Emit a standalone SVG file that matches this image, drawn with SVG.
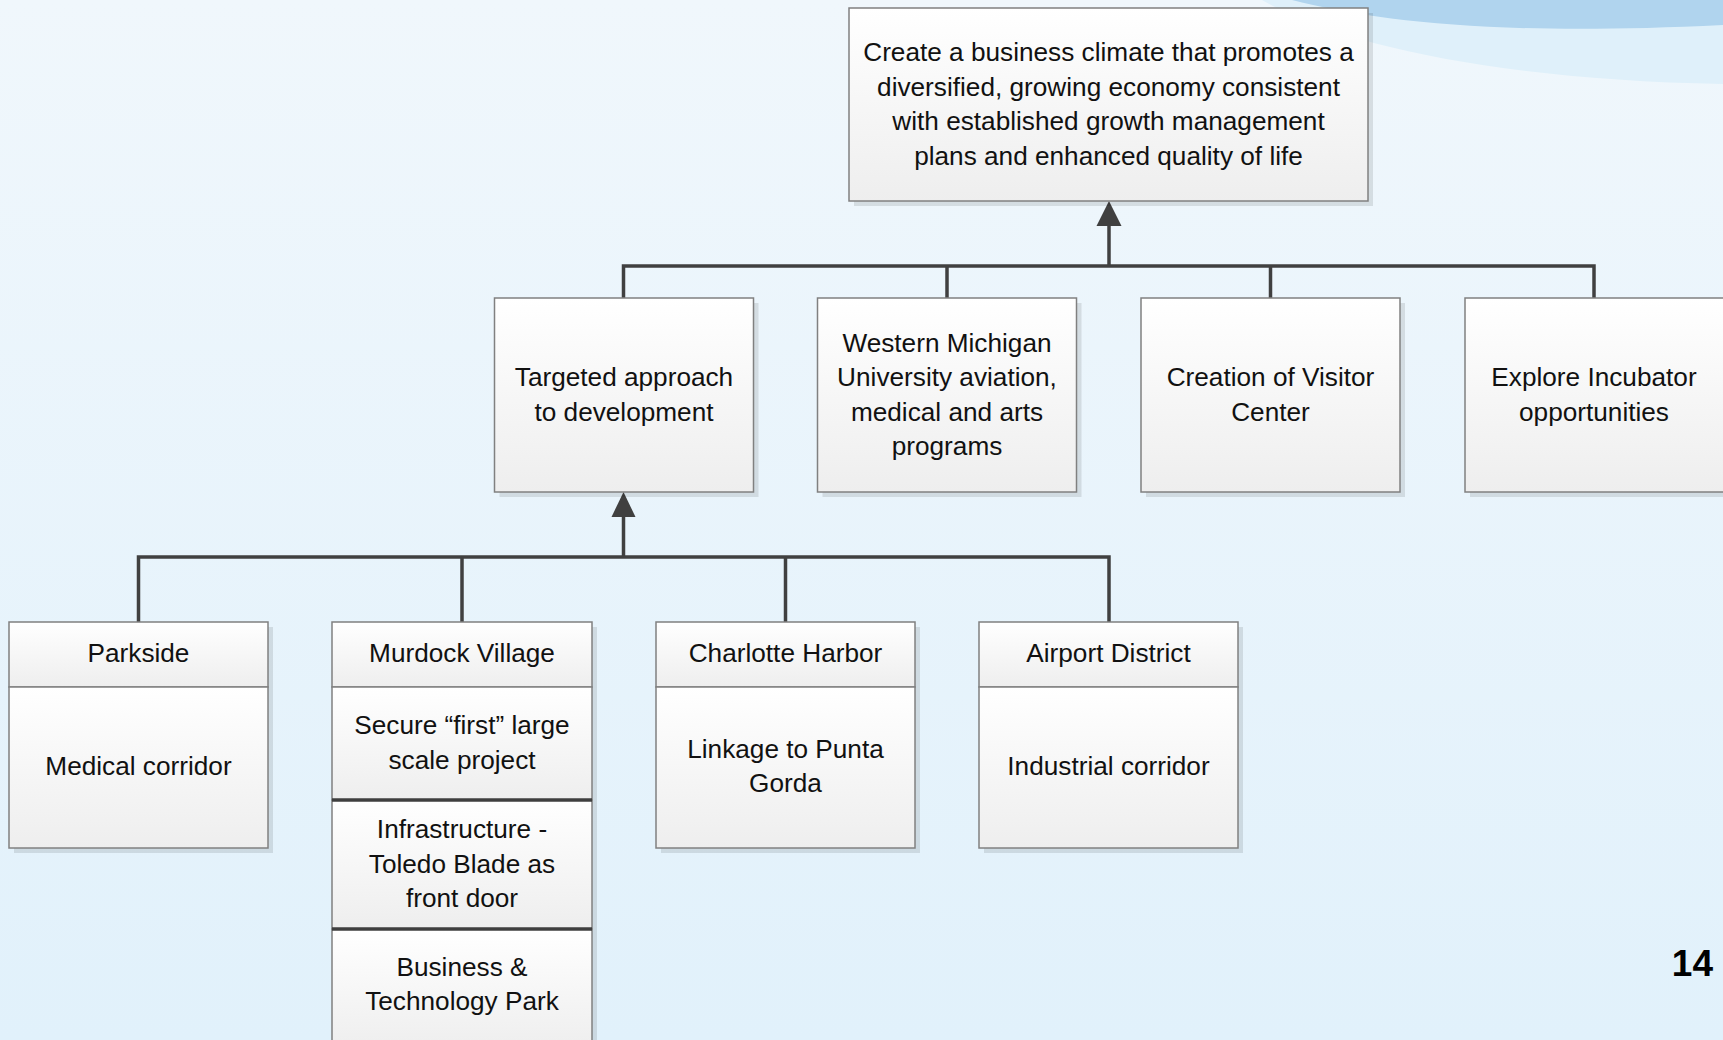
<svg xmlns="http://www.w3.org/2000/svg" width="1723" height="1040" viewBox="0 0 1723 1040">
<defs>
<linearGradient id="bg" x1="0" y1="0" x2="0" y2="1">
<stop offset="0" stop-color="#f0f7fc"/>
<stop offset="1" stop-color="#e1f1fb"/>
</linearGradient>
<linearGradient id="box" x1="0" y1="0" x2="0" y2="1">
<stop offset="0" stop-color="#ffffff"/>
<stop offset="1" stop-color="#eeeeee"/>
</linearGradient>
</defs>
<style>
.sh{fill:#000;opacity:0.1}
.bx{fill:url(#box);stroke:#808080;stroke-width:1.5}
.dk{stroke:#3f3f3f;stroke-width:3.5}
.t{font-family:"Liberation Sans",Arial,sans-serif;font-size:26.2px;fill:#111;text-anchor:middle}
.ln{fill:none;stroke:#404040;stroke-width:3.5}
.ah{fill:#404040}
</style>
<rect x="0" y="0" width="1723" height="1040" fill="url(#bg)"/>
<path d="M1262,0 C1340,45 1500,80 1723,84 L1723,0 Z" fill="#dff0fa"/>
<path d="M1292,0 C1380,22 1500,36 1723,25 L1723,0 Z" fill="#b0d4ee"/>

<g id="connectors">
<path class="ln" d="M623.5,298 V266 H1594 V298 M947,266 V298 M1270.5,266 V298 M1109,266 V222"/>
<path class="ah" d="M1109,201 L1121.5,226 L1096.5,226 Z"/>
<path class="ln" d="M138.5,622 V557 H1109 V622 M462,557 V622 M785.5,557 V622 M623.5,557 V514"/>
<path class="ah" d="M623.5,492 L635.5,517 L611.5,517 Z"/>
</g>

<g id="goal">
<rect class="sh" x="854" y="13" width="519" height="193"/>
<rect class="bx" x="849" y="8" width="519" height="193"/>
<text class="t" x="1108.5" y="61">Create a business climate that promotes a</text>
<text class="t" x="1108.5" y="95.5">diversified, growing economy consistent</text>
<text class="t" x="1108.5" y="130">with established growth management</text>
<text class="t" x="1108.5" y="164.5">plans and enhanced quality of life</text>
</g>

<g id="targeted">
<rect class="sh" x="499.5" y="303" width="259" height="194"/>
<rect class="bx" x="494.5" y="298" width="259" height="194"/>
<text class="t" x="624" y="386">Targeted approach</text>
<text class="t" x="624" y="421">to development</text>
</g>
<g id="wmu">
<rect class="sh" x="822.5" y="303" width="259" height="194"/>
<rect class="bx" x="817.5" y="298" width="259" height="194"/>
<text class="t" x="947" y="352">Western Michigan</text>
<text class="t" x="947" y="386">University aviation,</text>
<text class="t" x="947" y="421">medical and arts</text>
<text class="t" x="947" y="455">programs</text>
</g>
<g id="visitor">
<rect class="sh" x="1146" y="303" width="259" height="194"/>
<rect class="bx" x="1141" y="298" width="259" height="194"/>
<text class="t" x="1270.5" y="386">Creation of Visitor</text>
<text class="t" x="1270.5" y="421">Center</text>
</g>
<g id="incubator">
<rect class="sh" x="1470" y="303" width="259" height="194"/>
<rect class="bx" x="1465" y="298" width="259" height="194"/>
<text class="t" x="1594" y="386">Explore Incubator</text>
<text class="t" x="1594" y="421">opportunities</text>
</g>

<g id="parkside">
<rect class="sh" x="14" y="627" width="259" height="226"/>
<rect class="bx" x="9" y="622" width="259" height="65"/>
<rect class="bx" x="9" y="687" width="259" height="161"/>
<text class="t" x="138.5" y="662">Parkside</text>
<text class="t" x="138.5" y="775">Medical corridor</text>
</g>
<g id="murdock">
<rect class="sh" x="337" y="627" width="260" height="420"/>
<rect class="bx" x="332" y="622" width="260" height="65"/>
<rect class="bx" x="332" y="687" width="260" height="113"/>
<rect class="bx" x="332" y="800" width="260" height="129"/>
<rect class="bx" x="332" y="929" width="260" height="120"/>
<line class="dk" x1="332" y1="800" x2="592" y2="800"/>
<line class="dk" x1="332" y1="929" x2="592" y2="929"/>
<text class="t" x="462" y="662">Murdock Village</text>
<text class="t" x="462" y="734">Secure “first” large</text>
<text class="t" x="462" y="769">scale project</text>
<text class="t" x="462" y="838">Infrastructure -</text>
<text class="t" x="462" y="873">Toledo Blade as</text>
<text class="t" x="462" y="907">front door</text>
<text class="t" x="462" y="976">Business &amp;</text>
<text class="t" x="462" y="1010">Technology Park</text>
</g>
<g id="charlotte">
<rect class="sh" x="661" y="627" width="259" height="226"/>
<rect class="bx" x="656" y="622" width="259" height="65"/>
<rect class="bx" x="656" y="687" width="259" height="161"/>
<text class="t" x="785.5" y="662">Charlotte Harbor</text>
<text class="t" x="785.5" y="758">Linkage to Punta</text>
<text class="t" x="785.5" y="792">Gorda</text>
</g>
<g id="airport">
<rect class="sh" x="984" y="627" width="259" height="226"/>
<rect class="bx" x="979" y="622" width="259" height="65"/>
<rect class="bx" x="979" y="687" width="259" height="161"/>
<text class="t" x="1108.5" y="662">Airport District</text>
<text class="t" x="1108.5" y="775">Industrial corridor</text>
</g>

<text x="1713" y="976" font-family="Liberation Sans,Arial,sans-serif" font-size="37" font-weight="bold" text-anchor="end" fill="#000">14</text>
</svg>
